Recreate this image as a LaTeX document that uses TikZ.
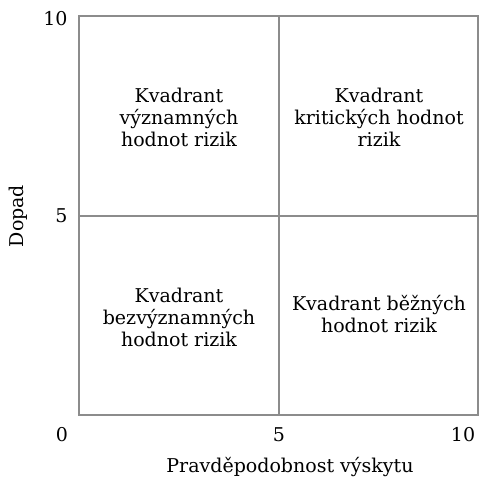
\documentclass[tikz,border=0pt]{standalone}
\usepackage{fontspec}
\setmainfont{DejaVu Serif}
\begin{document}
\begin{tikzpicture}[x=1pt,y=-1pt,
  frame/.style={draw=black!45,line width=1.1pt},
  quad/.style={align=center,font=\fontsize{19}{22}\selectfont},
  tick/.style={font=\fontsize{19}{21}\selectfont},
  axlabel/.style={font=\fontsize{19}{21}\selectfont}]
\useasboundingbox (0,0) rectangle (484,481);
% outer frame and quadrant dividers
\draw[frame] (79,16) rectangle (478,415);
\draw[frame] (279,16) -- (279,415);
\draw[frame] (79,216) -- (478,216);
% quadrant captions
\node[quad] (q1) at (179,117) {Kvadrant\\významných\\hodnot rizik};
\node[quad] (q2) at (379,117) {Kvadrant\\kritických hodnot\\rizik};
\node[quad] (q3) at (179,317) {Kvadrant\\bezvýznamných\\hodnot rizik};
\node[quad] (q4) at (379,314) {Kvadrant běžných\\hodnot rizik};
% tick labels
\node[tick,anchor=east] (y10) at (71,19) {10};
\node[tick,anchor=east] (y5) at (71,216) {5};
\node[tick] (x0) at (62,435) {0};
\node[tick] (x5) at (279,435) {5};
\node[tick] (x10) at (463,435) {10};
% axis titles
\node[axlabel,rotate=90] (ylab) at (18,216) {Dopad};
\node[axlabel] (xlab) at (290,467) {Pravděpodobnost výskytu};
\end{tikzpicture}
\end{document}
